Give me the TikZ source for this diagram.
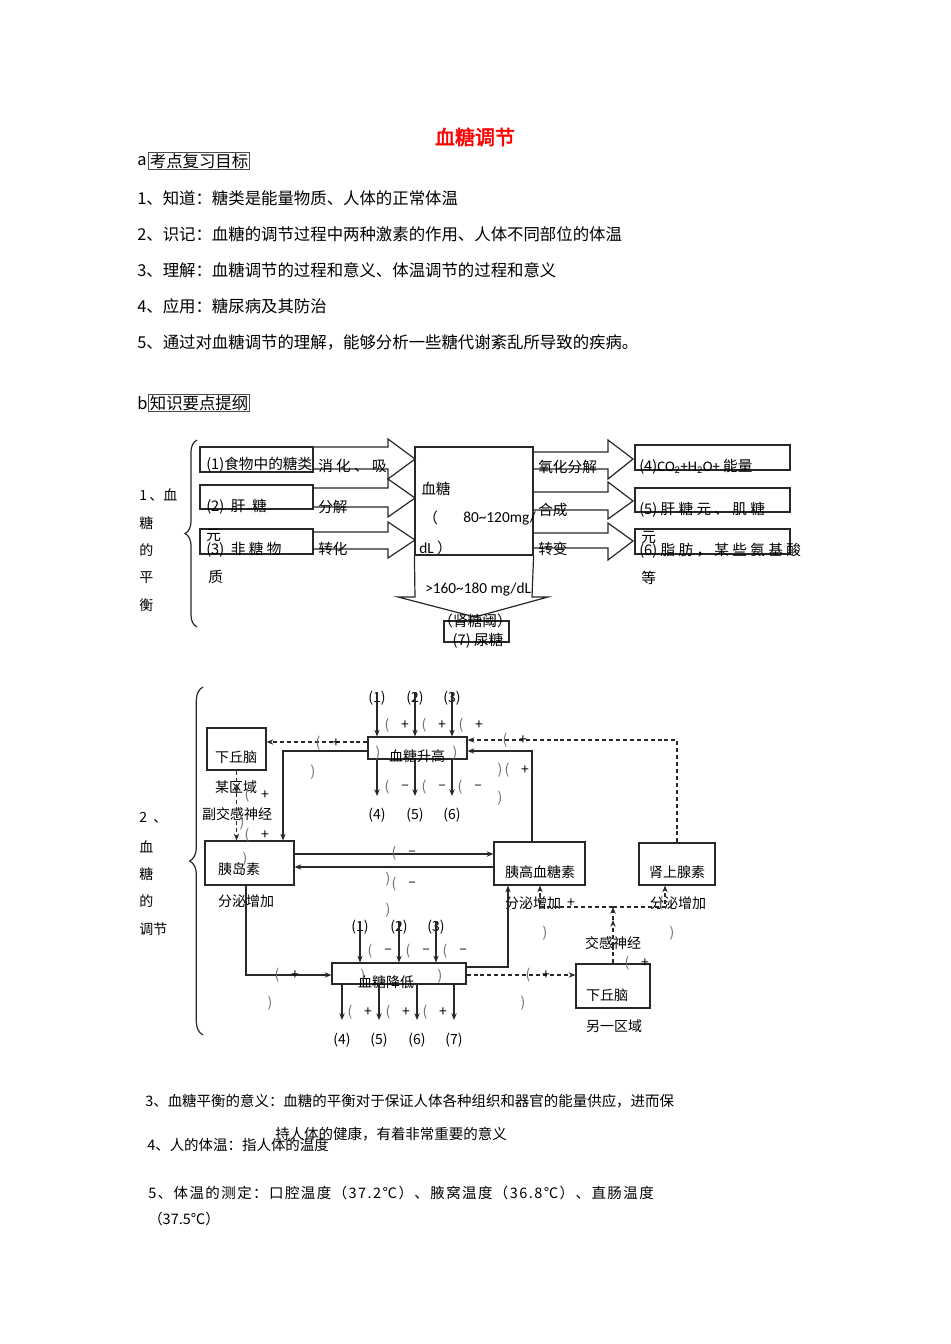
\documentclass[tikz,border=0pt]{standalone}
\usepackage{fontspec}
\setmainfont{Noto Sans CJK SC}
\newfontfamily\titlefont{Noto Sans CJK SC}[FakeBold=2.5]
\newfontfamily\latfont{Carlito}
\usetikzlibrary{arrows.meta,decorations.pathreplacing}
\definecolor{lc}{RGB}{40,40,40}
\definecolor{gr}{RGB}{110,110,110}
\newcounter{lb}
\newcommand\op[2]{\stepcounter{lb}\node[tc,text=gr] (op\thelb) at ({#1},{#2}) {(};}
\newcommand\cp[2]{\stepcounter{lb}\node[tc,text=gr] (cp\thelb) at ({#1},{#2}) {)};}
\newcommand\sg[3]{\stepcounter{lb}\node[tc] (sg\thelb) at ({#1},{#2}) {#3};}
\newcommand\lab[3]{\op{#1}{#2}\sg{#1+18}{#2}{#3}}
\begin{document}
\begin{tikzpicture}[x=0.75pt,y=-0.75pt,
 tc/.style={inner sep=0,font=\fontsize{10.5}{10.5}\selectfont},
 tw/.style={inner sep=0,anchor=west,font=\fontsize{10.5}{10.5}\selectfont},
 t1/.style={inner sep=0,anchor=west,font=\fontsize{11}{11}\selectfont},
 tl/.style={inner sep=0,anchor=west,font=\fontsize{12.3}{12.3}\selectfont},
 tb/.style={inner sep=0,anchor=west,font=\fontsize{10.85}{10.85}\selectfont},
 bx/.style 2 args={draw=lc,line width=0.9pt,inner sep=0,minimum width=#1*0.75pt,minimum height=#2*0.75pt},
 ln/.style={draw=lc,line width=0.9pt},
 ar/.style={ln,-{Stealth[length=5pt,width=4pt]}},
 da/.style={ar,dash pattern=on 3pt off 2.2pt},
 dl/.style={ln,dash pattern=on 3pt off 2.2pt},
 blk/.style={draw=lc,line width=0.9pt,line join=miter},
]
\fill[white] (0,0) rectangle (950,1344);
\useasboundingbox (0,0) rectangle (950,1344);

% ---------- header ----------
\node[inner sep=0,text=red,font=\fontsize{15}{15}\selectfont\titlefont] (title) at (475,137) {血糖调节};
\node[tl] (a) at (137,161) {a};
\node[tl,draw=black!70,line width=0.8pt,inner sep=1pt] (abox) at (148,161) {考点复习目标};
\node[tl] (l1) at (137,198) {1、知道：糖类是能量物质、人体的正常体温};
\node[tl] (l2) at (137,234) {2、识记：血糖的调节过程中两种激素的作用、人体不同部位的体温};
\node[tl] (l3) at (137,270) {3、理解：血糖调节的过程和意义、体温调节的过程和意义};
\node[tl] (l4) at (137,306) {4、应用：糖尿病及其防治};
\node[tl] (l5) at (137,342) {5、通过对血糖调节的理解，能够分析一些糖代谢紊乱所导致的疾病。};
\node[tl] (b) at (137,403) {b};
\node[tl,draw=black!70,line width=0.8pt,inner sep=1pt] (bbox) at (148,403) {知识要点提纲};

% ---------- diagram 1 ----------
\node[tw] (d1a) at (139,495) {1\,、血};
\node[tw] (d1b) at (139,523) {糖};
\node[tw] (d1c) at (139,550) {的};
\node[tw] (d1d) at (139,578) {平};
\node[tw] (d1e) at (139,605) {衡};
\draw[ln,decorate,decoration={brace,amplitude=9pt}] (197,627) -- (197,440) coordinate (br1);

\node[bx={113}{25}] (b1) at (256.5,459.5) {};
\node[bx={113}{24}] (b2) at (256.5,497) {};
\node[bx={113}{25}] (b3) at (256.5,541.5) {};
\node[bx={118}{108}] (cb) at (474,501) {};
\node[bx={155}{25}] (r4) at (712.5,457.5) {};
\node[bx={155}{24}] (r5) at (712.5,500) {};
\node[bx={155}{25}] (r6) at (712.5,541.5) {};
\node[bx={65}{21}] (u7) at (476.5,631.5) {};

% block arrows
\draw[blk] (313,447)--(388,447)--(388,439)--(415,459)--(388,479)--(388,469)--(313,469);
\draw[blk] (313,488)--(388,488)--(388,479)--(415,498)--(388,517)--(388,507)--(313,507);
\draw[blk] (313,532)--(388,532)--(388,522)--(415,540)--(388,558)--(388,549)--(313,549);
\draw[blk] (533,452)--(608,452)--(608,440)--(633,459)--(608,479)--(608,469)--(533,469);
\draw[blk] (533,492)--(608,492)--(608,482)--(633,501)--(608,519)--(608,510)--(533,510);
\draw[blk] (533,533)--(608,533)--(608,523)--(633,541)--(608,560)--(608,548)--(533,548);
\draw[blk] (cb.south west)--(415,597)--(398,597)--(475,617)--(548,597)--(532,597)--(cb.south east);

\node[t1] (x1) at (206,465) {(1)食物中的糖类};
\node[t1] (x1b) at (318,466) {消 化 、 吸};
\node[t1] (x2) at (206,507) {(2)\ \ 肝\ \ 糖};
\node[t1] (x2b) at (318,507) {分解};
\node[t1] (x3a) at (206,535) {元};
\node[t1] (x3) at (206,550) {(3)\ \ 非\ 糖\ 物};
\node[t1] (x3b) at (318,549) {转化};
\node[t1] (x3c) at (208,577) {质};
\node[t1] (c1) at (421,489) {血糖};
\node[t1] (c2) at (423,518) {（};
\node[t1,font=\fontsize{11.5}{11.5}\latfont] (c3) at (463,518) {80\textasciitilde 120mg/};
\node[t1] (c4) at (419,548) {{\fontsize{11.5}{11.5}\latfont dL }）};
\node[t1,font=\fontsize{11.5}{11.5}\latfont] (c5) at (425,589) {>160\textasciitilde 180 mg/dL};
\node[tc,font=\fontsize{11}{11}\selectfont] (c6) at (475,621) {（肾糖阈）};
\node[tc,font=\fontsize{11}{11}\selectfont] (c7) at (478,641) {(7) 尿糖};
\node[t1] (y1) at (538,467) {氧化分解};
\node[t1] (y2) at (538,510) {合成};
\node[t1] (y3) at (538,549) {转变};
\node[t1] (z4) at (639,467) {(4){\latfont CO\textsubscript{2}+H\textsubscript{2}O+} 能量};
\node[t1] (z5) at (639,510) {(5)\ 肝\ 糖\ 元\ 、\ 肌\ 糖};
\node[t1] (z6a) at (641,537) {元};
\node[t1] (z6) at (639,551) {(6)\ 脂\ 肪\ ，\ 某\ 些\ 氨\ 基\ 酸};
\node[t1] (z6b) at (641,578) {等};

% ---------- diagram 2 ----------
\node[tw] (e1) at (139,818) {2\ \ 、};
\node[tw] (e2) at (139,847) {血};
\node[tw] (e3) at (139,874) {糖};
\node[tw] (e4) at (139,901) {的};
\node[tw] (e5) at (139,929) {调节};
\draw[ln,decorate,decoration={brace,amplitude=10pt}] (203,1035) -- (203,687) coordinate (br2);

\node[bx={59}{42}] (hy1) at (236.5,749) {};
\node[bx={99}{22}] (up) at (417.5,748) {};
\node[bx={89}{44}] (ins) at (249.5,863) {};
\node[bx={91}{43}] (glu) at (539.5,863.5) {};
\node[bx={76}{42}] (adr) at (677,864) {};
\node[bx={134}{21}] (dn) at (399,973.5) {};
\node[bx={74}{44}] (hy2) at (613,986) {};

\node[tc] (hy1t) at (236,757) {下丘脑};
\node[tc] (upt) at (417,756) {血糖升高};
\node[tc] (inst) at (239,869) {胰岛素};
\node[tc] (glut) at (540,872) {胰高血糖素};
\node[tc] (adrt) at (677,872) {肾上腺素};
\node[tc] (dnt) at (386,982) {血糖降低};
\node[tc] (hy2t) at (607,995) {下丘脑};
\node[tc] (s1) at (236,787) {某区域};
\node[tc] (s2) at (237,814) {副交感神经};
\node[tc] (s3) at (246,901) {分泌增加};
\node[tc] (s4) at (533,903) {分泌增加};
\node[tc] (s5) at (678,903) {分泌增加};
\node[tc] (s6) at (613,943) {交感神经};
\node[tc] (s7) at (614,1026) {另一区域};

% arrows into / out of 血糖升高
\foreach \x/\n in {377/1,415/2,452/3}{
  \node[tc] (ui\n) at (\x,698) {(\n)};
  \draw[ar] (\x,692) -- (up.north -| \x,0);
}
\foreach \x/\n in {377/4,415/5,452/6}{
  \node[tc] (uo\n) at (\x,815) {(\n)};
  \draw[ar] (up.south -| \x,0) -- (\x,796);
}
\lab{387}{725}{+}\lab{424}{725}{+}\lab{461}{725}{+}
\lab{387}{787}{–}\lab{424}{787}{–}\lab{460}{787}{–}
\cp{378}{753}\cp{455}{753}

\draw[da] (up.west |- 0,742) -- (hy1.east |- 0,742);
\lab{318}{743}{+}\cp{313}{772}
\draw[ar] (up.west |- 0,751) -- (283,751) -- (ins.north -| 283,0);
\draw[da] (adr.north) -- (adr.north |- 0,740) -- (up.east |- 0,740);
\lab{505}{740}{+}
\draw[ar] (glu.north -| 532,0) -- (532,751) -- (up.east |- 0,751);
\cp{500}{770}\lab{507}{770}{+}\cp{500}{798}

\draw[da] (hy1.south) -- (hy1.south |- 0,793);
\draw[da] (hy1.south |- 0,793) -- (hy1.south |- ins.north);
\lab{247}{795}{+}\cp{242}{823}\lab{247}{835}{+}\cp{245}{859}

\draw[ar] (ins.east |- 0,854) -- (glu.west |- 0,854);
\draw[ar] (glu.west |- 0,867) -- (ins.east |- 0,867);
\lab{394}{853}{–}\cp{388}{879}\lab{394}{884}{–}\cp{388}{910}

% lower part
\draw[dl] (hy2.north) -- (hy2.north |- 0,946);
\draw[da] (hy2.north |- 0,946) -- (hy2.north |- 0,920);
\draw[da] (hy2.north |- 0,920) -- (hy2.north |- 0,907) coordinate (jn);
\draw[da] (jn) -- (540,907) -- (glu.south -| 540,0);
\draw[da] (jn) -- (665,907) -- (adr.south -| 665,0);
\sg{571}{903}{+}\op{661}{903}
\cp{545}{933}\cp{672}{933}
\lab{627}{963}{+}

\draw[ar] (ins.south -| 246,0) -- (246,975) -- (dn.west |- 0,975);
\lab{277}{975}{+}\cp{270}{1003}
\draw[ar] (dn.east |- 0,967) -- (508,967) -- (glu.south -| 508,0);
\draw[da] (dn.east |- 0,975) -- (hy2.west |- 0,975);
\lab{528}{975}{+}\cp{523}{1003}

\foreach \x/\n in {360/1,399/2,436/3}{
  \node[tc] (di\n) at (\x,927) {(\n)};
  \draw[ar] (\x,921) -- (dn.north -| \x,0);
}
\foreach \x/\n in {342/4,379/5,417/6,454/7}{
  \node[tc] (do\n) at (\x,1040) {(\n)};
  \draw[ar] (dn.south -| \x,0) -- (\x,1020);
}
\lab{370}{951}{–}\lab{408}{951}{–}\lab{445}{951}{–}
\lab{350}{1012}{+}\lab{388}{1012}{+}\lab{425}{1012}{+}
\cp{363}{976}\cp{440}{976}

% ---------- bottom text ----------
\node[tb] (p3) at (145,1101) {3、血糖平衡的意义：血糖的平衡对于保证人体各种组织和器官的能量供应，进而保};
\node[tb] (p3b) at (275,1134) {持人体的健康，有着非常重要的意义};
\node[tb] (p4) at (147,1145) {4、人的体温：指人体的温度};
\node[tb,font=\fontsize{10.85}{10.85}\selectfont\addfontfeatures{LetterSpace=10}] (p5) at (148,1193) {5、体温的测定：口腔温度（37.2℃）、腋窝温度（36.8℃）、直肠温度};
\node[tb] (p5b) at (148,1219) {（37.5℃）};
\end{tikzpicture}
\end{document}
